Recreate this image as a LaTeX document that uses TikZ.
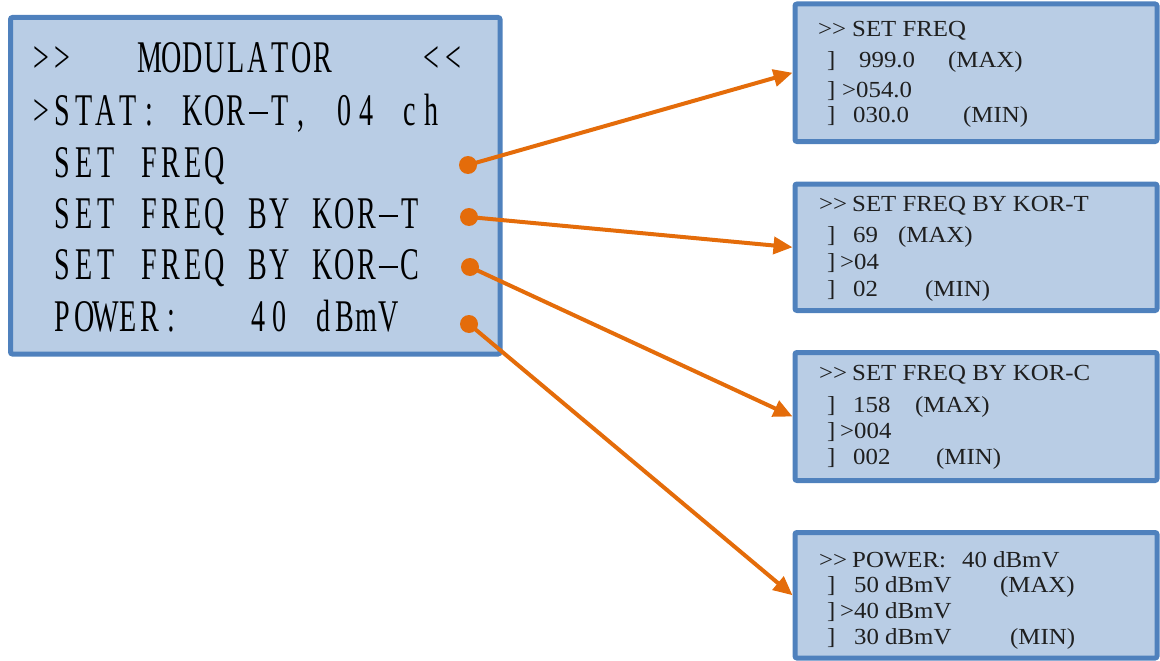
\documentclass[tikz,border=0pt]{standalone}
\usepackage{fontspec}
\usetikzlibrary{arrows.meta}
\newfontfamily\lcdbig[FakeStretch=0.62]{Liberation Serif}
\newfontfamily\lcdsmall[FakeStretch=1.08]{Liberation Serif}
\definecolor{lcdfill}{HTML}{B9CDE5}
\definecolor{lcdedge}{HTML}{4F81BD}
\definecolor{linkorange}{HTML}{E46C0A}
\newcommand\mcell[1]{\makebox[21.7pt][c]{#1}}
\def\mword#1{\mwordi#1\relax}
\def\mwordi#1{\ifx\relax#1\else\mcell{#1}\expandafter\mwordi\fi}
\newcommand\mdash{\rule[0.24em]{19pt}{1.7pt}}
\tikzset{
  lcdbox/.style={draw=lcdedge, fill=lcdfill, line width=5pt, rounded corners=2pt, inner sep=0pt},
  bigtext/.style={anchor=base west, inner sep=0pt, font=\lcdbig\fontsize{45.3}{50}\selectfont},
  smalltext/.style={anchor=base west, inner sep=0pt, text=black!88, font=\lcdsmall\fontsize{23}{27}\selectfont},
  dot/.style={circle, fill=linkorange, inner sep=0pt, minimum size=18pt},
  link/.style={draw=linkorange, line width=4pt, -{Triangle[length=19pt,width=17pt]}}
}
\begin{document}
\begin{tikzpicture}[x=1pt,y=-1pt]
\useasboundingbox (0,0) rectangle (1160,661);
% boxes
\node[lcdbox, minimum width=489.5pt, minimum height=336.5pt] (m) at (255.25,185.75) {};
\node[lcdbox, minimum width=362pt, minimum height=137.5pt] (b1) at (976,72.75) {};
\node[lcdbox, minimum width=362pt, minimum height=126.5pt] (b2) at (976,247.25) {};
\node[lcdbox, minimum width=362pt, minimum height=128pt] (b3) at (976,416.5) {};
\node[lcdbox, minimum width=362pt, minimum height=125.5pt] (b4) at (976,595.25) {};
% main box text
\node[bigtext] (l1) at (30,73) {\mword{>>~~~MODULATOR~~~~<<}};
\node[bigtext] (l2) at (30,125) {\mword{>STAT:~KOR\mdash T,~04~ch}};
\node[bigtext] (l3) at (30,177) {\mword{~SET~FREQ}};
\node[bigtext] (l4) at (30,228) {\mword{~SET~FREQ~BY~KOR\mdash T}};
\node[bigtext] (l5) at (30,279) {\mword{~SET~FREQ~BY~KOR\mdash C}};
\node[bigtext] (l6) at (30,331) {\mword{~POWER:~~~40~dBmV}};
% box 1 text
\node[smalltext] (a1) at (818,37) {>>};
\node[smalltext] (a2) at (852,37) {SET FREQ};
\node[smalltext] (a3) at (827,67) {]};
\node[smalltext] (a4) at (859,67) {999.0};
\node[smalltext] (a5) at (948,67) {(MAX)};
\node[smalltext] (a6) at (827,97) {]};
\node[smalltext] (a7) at (842,97) {>054.0};
\node[smalltext] (a8) at (827,122) {]};
\node[smalltext] (a9) at (853,122) {030.0};
\node[smalltext] (a10) at (963,122) {(MIN)};
% box 2 text
\node[smalltext] (c1) at (819,211) {>>};
\node[smalltext] (c2) at (852,211) {SET FREQ BY KOR-T};
\node[smalltext] (c3) at (827,242) {]};
\node[smalltext] (c4) at (853,242) {69};
\node[smalltext] (c5) at (898,242) {(MAX)};
\node[smalltext] (c6) at (827,269) {]};
\node[smalltext] (c7) at (840,269) {>04};
\node[smalltext] (c8) at (827,296) {]};
\node[smalltext] (c9) at (853,296) {02};
\node[smalltext] (c10) at (925,296) {(MIN)};
% box 3 text
\node[smalltext] (e1) at (819,380) {>>};
\node[smalltext] (e2) at (852,380) {SET FREQ BY KOR-C};
\node[smalltext] (e3) at (827,412) {]};
\node[smalltext] (e4) at (853,412) {158};
\node[smalltext] (e5) at (915,412) {(MAX)};
\node[smalltext] (e6) at (827,438) {]};
\node[smalltext] (e7) at (840,438) {>004};
\node[smalltext] (e8) at (827,464) {]};
\node[smalltext] (e9) at (853,464) {002};
\node[smalltext] (e10) at (936,464) {(MIN)};
% box 4 text
\node[smalltext] (g1) at (819,567) {>>};
\node[smalltext] (g2) at (852,567) {POWER:};
\node[smalltext] (g3) at (962,567) {40 dBmV};
\node[smalltext] (g4) at (827,592) {]};
\node[smalltext] (g5) at (854,592) {50 dBmV};
\node[smalltext] (g6) at (1000,592) {(MAX)};
\node[smalltext] (g7) at (827,618) {]};
\node[smalltext] (g8) at (840,618) {>40 dBmV};
\node[smalltext] (g9) at (827,644) {]};
\node[smalltext] (g10) at (854,644) {30 dBmV};
\node[smalltext] (g11) at (1010,644) {(MIN)};
% dots and links
\node[dot] (d1) at (468,165) {};
\node[dot] (d2) at (469,217) {};
\node[dot] (d3) at (470,267) {};
\node[dot] (d4) at (469,324) {};
\draw[link] (d1.center) -- (b1.west);
\draw[link] (d2.center) -- (b2.west);
\draw[link] (d3.center) -- (b3.west);
\draw[link] (d4.center) -- (b4.west);
\end{tikzpicture}
\end{document}
